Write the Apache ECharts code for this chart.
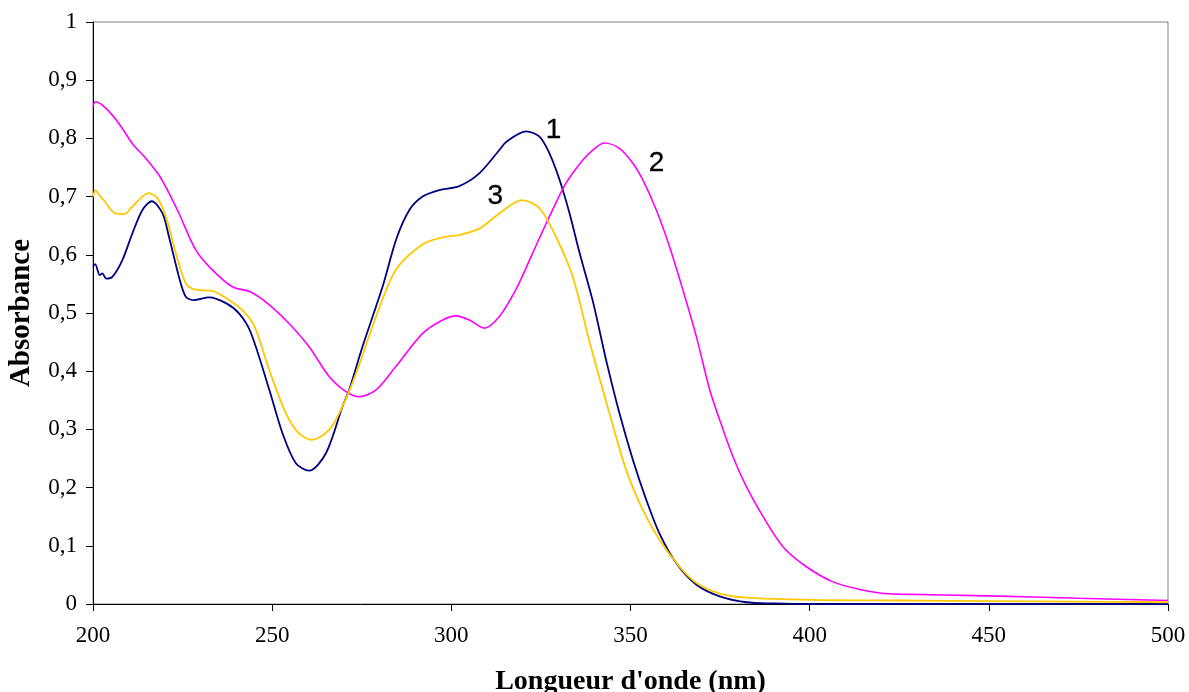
<!DOCTYPE html>
<html>
<head>
<meta charset="utf-8">
<script src="https://cdn.jsdelivr.net/npm/echarts@6/dist/echarts.min.js"></script>
<style>html,body{margin:0;padding:0;background:#fff;}#c{width:1189px;height:692px;}</style>
</head>
<body>
<div id="c"></div>
<script>
// Wavelength (nm) / absorbance pairs
var curve1 = [[200,0.580],[200.6,0.584],[201.9,0.565],[202.6,0.568],[203.7,0.559],[205.4,0.562],[208.2,0.591],[211,0.637],[213.8,0.677],[216.4,0.692],[219.4,0.671],[221.2,0.631],[224,0.562],[225.9,0.528],[228.2,0.522],[232.4,0.527],[237.1,0.517],[240.8,0.499],[244,0.467],[249.2,0.368],[252.9,0.293],[256.6,0.242],[260.3,0.229],[265,0.259],[269.6,0.339],[271.5,0.368],[275.2,0.442],[280.8,0.545],[284.7,0.628],[288.3,0.677],[292,0.700],[296.6,0.711],[302.2,0.718],[307.8,0.740],[313.4,0.780],[315.3,0.794],[320.9,0.812],[324.6,0.803],[327.4,0.774],[330.2,0.729],[333,0.671],[335.8,0.603],[339.5,0.520],[343.2,0.419],[346.9,0.328],[350.7,0.247],[354.4,0.179],[358.1,0.121],[362.8,0.070],[368.4,0.033],[374.9,0.013],[382.3,0.003],[390,0.001],[400,0],[450,0],[500,0]];
var curve2 = [[200,0.855],[200.7,0.863],[202.6,0.857],[205.4,0.840],[208.2,0.817],[211,0.791],[214.7,0.766],[218.4,0.737],[221.2,0.706],[224,0.671],[228.7,0.608],[233.3,0.574],[238.9,0.545],[244,0.536],[249.2,0.514],[254.7,0.482],[260.3,0.442],[265.9,0.391],[270.6,0.365],[274.3,0.356],[279,0.368],[284.5,0.408],[292,0.465],[297.6,0.488],[301.3,0.495],[305,0.488],[309.2,0.474],[313.4,0.494],[318,0.540],[322.7,0.603],[327.4,0.666],[332,0.723],[336.7,0.763],[339.5,0.780],[342.7,0.792],[346.9,0.783],[350.7,0.757],[353.4,0.729],[357.2,0.677],[360.9,0.614],[364.6,0.540],[368.4,0.459],[372.1,0.368],[374.9,0.316],[378.6,0.253],[382.3,0.202],[387,0.150],[392.6,0.098],[399.1,0.064],[406.5,0.038],[414,0.025],[419.6,0.019],[425,0.017],[450,0.014],[475,0.010],[500,0.006]];
var curve3 = [[200,0.700],[200.7,0.711],[201.7,0.703],[203,0.694],[206.3,0.671],[208.7,0.670],[211,0.683],[213.8,0.700],[215.5,0.706],[218,0.697],[220.3,0.666],[223.1,0.603],[225.9,0.551],[228.7,0.540],[233.3,0.538],[238,0.522],[241.7,0.505],[245,0.478],[249.2,0.402],[253.8,0.328],[257.5,0.293],[261.1,0.282],[265.9,0.299],[269.6,0.339],[273.4,0.396],[279,0.494],[284.5,0.574],[292,0.618],[297.6,0.630],[302.2,0.634],[307.8,0.645],[313.4,0.671],[319.7,0.694],[324.6,0.680],[329.2,0.631],[333.9,0.562],[338.5,0.452],[344.1,0.328],[348.8,0.230],[353.4,0.162],[358.1,0.110],[363.7,0.064],[368.4,0.036],[374.9,0.018],[382.3,0.011],[401,0.007],[425,0.006],[450,0.005],[475,0.004],[500,0.003]];
var curveLabels = ['1', '2', '3'];
var curveLabelPos = [[328.5,0.814],[357.3,0.758],[312.3,0.701]];
var xTicks = [200, 250, 300, 350, 400, 450, 500];
var yTicks = [0, 0.1, 0.2, 0.3, 0.4, 0.5, 0.6, 0.7, 0.8, 0.9, 1];
var xTitle = "Longueur d'onde (nm)";
var yTitle = "Absorbance";

var serif = 'Liberation Serif';
var chart = echarts.init(document.getElementById('c'), null, {renderer: 'canvas'});
function lineSeries(data, color, w) {
  return {type: 'line', data: data, symbol: 'none', smooth: 0.3, silent: true,
    lineStyle: {color: color, width: w}, z: 3};
}
var option = {
  animation: false,
  backgroundColor: '#ffffff',
  grid: {left: 93, right: 21, top: 22, bottom: 88, containLabel: false, outerBoundsMode: 'none',
    show: true, borderColor: '#808080', borderWidth: 1, backgroundColor: 'transparent'},
  xAxis: {
    type: 'value', min: xTicks[0], max: xTicks[xTicks.length - 1], interval: 50,
    name: xTitle, nameLocation: 'middle', nameGap: 64,
    nameTextStyle: {fontFamily: serif, fontSize: 28, fontWeight: 'bold', color: '#000'},
    axisLine: {show: true, onZero: false, lineStyle: {color: '#000', width: 1}},
    axisTick: {show: true, inside: false, length: 7, lineStyle: {color: '#000'}},
    axisLabel: {fontFamily: serif, fontSize: 23, color: '#000', margin: 20},
    splitLine: {show: false}
  },
  yAxis: {
    type: 'value', min: yTicks[0], max: yTicks[yTicks.length - 1], interval: 0.1,
    name: yTitle, nameLocation: 'middle', nameGap: 57, nameRotate: 90,
    nameTextStyle: {fontFamily: serif, fontSize: 29, fontWeight: 'bold', color: '#000'},
    axisLine: {show: true, onZero: false, lineStyle: {color: '#000', width: 1}},
    axisTick: {show: true, inside: false, length: 7, lineStyle: {color: '#000'}},
    axisLabel: {fontFamily: serif, fontSize: 23, color: '#000', margin: 16,
      formatter: function (v) { return String(Math.round(v * 10) / 10).replace('.', ','); }},
    splitLine: {show: false}
  },
  series: [
    lineSeries(curve1, '#000080', 1.8),
    lineSeries(curve2, '#FF00FF', 1.6),
    lineSeries(curve3, '#FFC800', 1.8),
    {type: 'scatter', symbolSize: 0, silent: true, z: 5,
      data: curveLabelPos.map(function (p, i) { return {value: p, name: curveLabels[i]}; }),
      label: {show: true, position: 'inside', formatter: '{b}', fontFamily: 'Liberation Sans', fontSize: 28,
        color: '#000', opacity: 1, textBorderColor: '#000', textBorderWidth: 0.3}}
  ]
};
chart.setOption(option);
</script>
</body>
</html>
